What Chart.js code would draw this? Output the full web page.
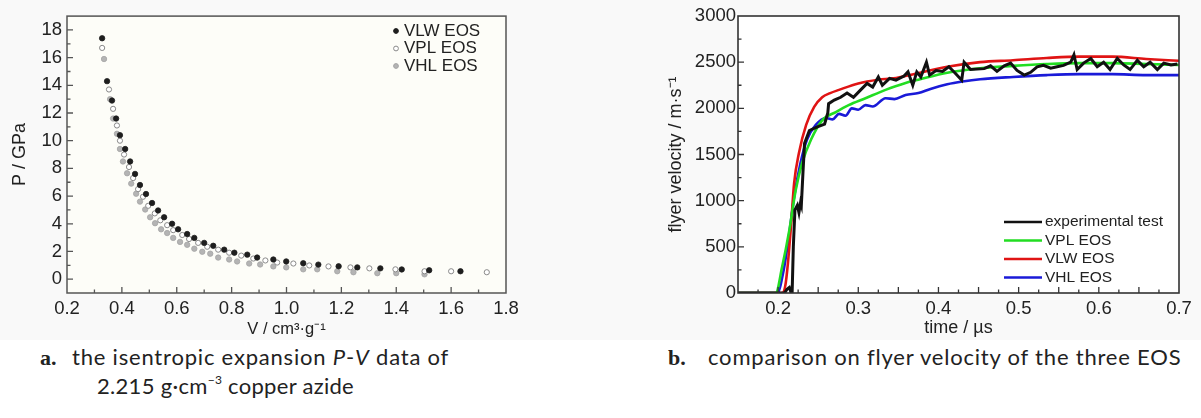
<!DOCTYPE html>
<html>
<head>
<meta charset="utf-8">
<script src="https://cdn.jsdelivr.net/npm/chart.js@4.4.1/dist/chart.umd.min.js"></script>
<style>
  html, body { margin:0; padding:0; background:#ffffff; width:1201px; height:418px; overflow:hidden; }
  #top { position:absolute; left:0; top:0; width:1201px; height:340px; background:#f9f9f9; }
  #wa { position:absolute; left:0; top:0; width:560px; height:340px; }
  #wb { position:absolute; left:600px; top:0; width:601px; height:340px; }
  .cap { position:absolute; font-family:"Lato","Open Sans",sans-serif; font-size:22px; letter-spacing:0.8px; color:#222; white-space:nowrap; }
  .lbl { font-family:"Liberation Serif","Times New Roman",serif; font-weight:bold; letter-spacing:0; }
  sup { font-size:12px; vertical-align:10px; line-height:0; }
</style>
</head>
<body>
<div id="top"></div>
<div id="wa"><canvas id="ca" width="560" height="340"></canvas></div>
<div id="wb"><canvas id="cb" width="601" height="340"></canvas></div>
<div class="cap" style="left:40px;top:343px;"><span class="lbl">a.</span></div>
<div class="cap" style="left:72px;top:343px;">the isentropic expansion <i>P</i>-<i>V</i> data of</div>
<div class="cap" style="left:97px;top:372px;letter-spacing:0.3px;">2.215 g·cm<sup>−3</sup> copper azide</div>
<div class="cap" style="left:668px;top:343px;"><span class="lbl">b.</span></div>
<div class="cap" style="left:708px;top:343px;">comparison on flyer velocity of the three EOS</div>
<script>
// ---------- Chart a: isentropic P-V data ----------
const V_TICKS = [0.2, 0.4, 0.6, 0.8, 1.0, 1.2, 1.4, 1.6, 1.8];
const P_TICKS = [0, 2, 4, 6, 8, 10, 12, 14, 16, 18];

const VLW_V = [0.328,0.346,0.364,0.379,0.393,0.412,0.430,0.448,0.466,0.488,0.510,0.532,0.554,0.583,0.605,0.638,0.664,0.700,0.733,0.773,0.810,0.857,0.893,0.952,0.999,1.061,1.116,1.190,1.258,1.342,1.420,1.520,1.634];
const VLW_P = [17.4,14.3,12.9,11.6,10.4,9.4,8.5,7.6,6.8,6.15,5.5,4.96,4.47,4.0,3.6,3.26,2.98,2.62,2.41,2.13,1.91,1.77,1.56,1.42,1.28,1.15,1.05,0.93,0.85,0.78,0.70,0.64,0.57];

const VPL_V = [0.328,0.353,0.368,0.382,0.393,0.408,0.426,0.441,0.459,0.477,0.496,0.520,0.540,0.565,0.587,0.620,0.645,0.678,0.711,0.751,0.791,0.835,0.879,0.923,0.966,1.025,1.083,1.153,1.233,1.302,1.397,1.503,1.600,1.730];
const VPL_P = [16.7,13.7,12.3,11.1,10.0,9.0,8.1,7.3,6.5,5.95,5.3,4.75,4.25,3.9,3.54,3.19,2.9,2.62,2.34,2.13,1.91,1.70,1.49,1.35,1.20,1.13,0.99,0.92,0.85,0.78,0.71,0.57,0.57,0.50];

const VHL_V = [0.335,0.357,0.368,0.382,0.393,0.404,0.419,0.434,0.452,0.466,0.485,0.503,0.521,0.543,0.565,0.587,0.612,0.638,0.664,0.693,0.722,0.751,0.791,0.820,0.864,0.904,0.952,0.999,1.061,1.112,1.185,1.244,1.331,1.400,1.503];
const VHL_P = [15.9,13.0,11.6,10.5,9.4,8.5,7.65,6.9,6.17,5.6,5.03,4.47,4.04,3.6,3.33,2.98,2.69,2.48,2.2,1.98,1.84,1.56,1.42,1.28,1.13,1.06,0.92,0.85,0.71,0.71,0.57,0.50,0.43,0.43,0.35];

// ---------- Chart b: flyer velocity ----------
const T_TICKS = [0.2, 0.3, 0.4, 0.5, 0.6, 0.7];
const U_TICKS = [0, 500, 1000, 1500, 2000, 2500, 3000];

const EXP_T = [0.15,0.208,0.211,0.214,0.216,0.2175,0.219,0.221,0.224,0.226,0.228,0.229,0.231,0.233,0.239,0.249,0.258,0.262,0.263,0.270,0.278,0.286,0.294,0.303,0.311,0.318,0.325,0.330,0.339,0.347,0.357,0.362,0.368,0.373,0.378,0.385,0.389,0.397,0.405,0.413,0.421,0.429,0.432,0.440,0.457,0.465,0.473,0.482,0.490,0.498,0.507,0.515,0.523,0.531,0.540,0.548,0.556,0.565,0.569,0.573,0.581,0.590,0.598,0.606,0.614,0.623,0.631,0.639,0.648,0.656,0.664,0.673,0.681,0.690,0.698];
const EXP_U = [0,0,40,60,10,0,500,900,950,870,980,950,1300,1620,1760,1800,1830,1950,2050,2090,2120,2165,2120,2200,2270,2230,2340,2250,2325,2305,2350,2395,2250,2395,2340,2500,2360,2410,2400,2450,2380,2305,2500,2420,2430,2460,2400,2460,2490,2410,2360,2390,2450,2465,2435,2450,2465,2500,2580,2420,2490,2540,2450,2500,2420,2540,2470,2420,2520,2450,2500,2420,2490,2470,2480];

const VPL_T = [0.15,0.197,0.205,0.214,0.222,0.230,0.241,0.255,0.272,0.288,0.309,0.334,0.359,0.375,0.411,0.452,0.493,0.535,0.576,0.617,0.659,0.700];
const VPL_U = [0,0,280,680,1115,1410,1660,1870,1960,2035,2110,2200,2275,2310,2385,2435,2460,2480,2490,2490,2480,2470];

const VLW_T = [0.15,0.205,0.209,0.212,0.216,0.220,0.226,0.235,0.245,0.255,0.265,0.276,0.300,0.325,0.344,0.369,0.411,0.452,0.493,0.535,0.576,0.617,0.659,0.700];
const VLW_U = [0,0,80,300,715,1190,1516,1820,2015,2120,2165,2200,2270,2310,2325,2370,2450,2500,2520,2545,2560,2560,2535,2515];

const VHL_T = [0.15,0.199,0.207,0.214,0.220,0.228,0.236,0.247,0.260,0.268,0.276,0.284,0.292,0.300,0.309,0.318,0.334,0.345,0.359,0.375,0.390,0.411,0.430,0.452,0.493,0.535,0.576,0.617,0.659,0.700];
const VHL_U = [0,0,250,650,1040,1410,1660,1820,1895,1880,1940,1920,2000,1985,2035,2020,2110,2100,2145,2165,2210,2260,2290,2315,2340,2360,2370,2370,2360,2360];

const zip = (xs, ys) => xs.map((x, i) => ({ x: x, y: ys[i] }));
const FONT = '"Liberation Sans", Arial, sans-serif';

function framePlugin(opts) {
  return {
    id: 'frame_' + opts.name,
    beforeDraw(chart) {
      const a = chart.chartArea, c = chart.ctx;
      c.save();
      c.fillStyle = opts.plotBg;
      c.fillRect(a.left, a.top, a.right - a.left, a.bottom - a.top);
      c.restore();
    },
    afterDraw(chart) {
      const a = chart.chartArea, c = chart.ctx;
      const xs = chart.scales.x, ys = chart.scales.y;
      c.save();
      c.strokeStyle = opts.frameColor;
      c.lineWidth = opts.frameWidth;
      c.strokeRect(a.left, a.top, a.right - a.left, a.bottom - a.top);
      c.lineWidth = 1.3;
      c.beginPath();
      for (let v = opts.xMinor[0]; v <= opts.xMinor[1] + 1e-9; v += opts.xMinor[2]) {
        const px = xs.getPixelForValue(v);
        if (px <= a.left + 1 || px >= a.right - 1) continue;
        const major = Math.abs(v / opts.xMajor - Math.round(v / opts.xMajor)) < 1e-6;
        const len = major ? 6 : 3.5;
        c.moveTo(px, a.bottom); c.lineTo(px, a.bottom - len);
      }
      for (let v = opts.yMinor[0]; v <= opts.yMinor[1] + 1e-9; v += opts.yMinor[2]) {
        const py = ys.getPixelForValue(v);
        if (py <= a.top + 1 || py >= a.bottom - 1) continue;
        const major = Math.abs(v / opts.yMajor - Math.round(v / opts.yMajor)) < 1e-6;
        const len = major ? 6 : 3.5;
        c.moveTo(a.left, py); c.lineTo(a.left + len, py);
      }
      c.stroke();
      const L = opts.legend;
      c.font = L.font;
      c.textBaseline = 'middle';
      c.textAlign = 'left';
      chart.data.datasets.forEach((ds, i) => {
        const y = L.y0 + i * L.dy;
        if (L.kind === 'point') {
          c.beginPath();
          c.arc(L.x, y, 2.4, 0, Math.PI * 2);
          c.fillStyle = ds.backgroundColor;
          c.fill();
          c.strokeStyle = ds.borderColor;
          c.lineWidth = 1;
          c.stroke();
        } else {
          c.beginPath();
          c.strokeStyle = ds.borderColor;
          c.lineWidth = 2.6;
          c.moveTo(L.x, y); c.lineTo(L.x + L.len, y);
          c.stroke();
        }
        c.fillStyle = '#222';
        c.fillText(ds.label, L.tx, y);
      });
      c.restore();
    }
  };
}

const tickFont = { family: FONT, size: 18.5 };
const titleFont = { family: FONT, size: 18 };

new Chart(document.getElementById('ca'), {
  type: 'scatter',
  data: {
    datasets: [
      { label: 'VLW EOS', data: zip(VLW_V, VLW_P), backgroundColor: '#1e1e1e', borderColor: '#1e1e1e', pointRadius: 2.7, borderWidth: 0.8 },
      { label: 'VPL EOS', data: zip(VPL_V, VPL_P), backgroundColor: '#ffffff', borderColor: '#8a8a8a', pointRadius: 2.6, borderWidth: 1 },
      { label: 'VHL EOS', data: zip(VHL_V, VHL_P), backgroundColor: '#b4b4b4', borderColor: '#a4a4a4', pointRadius: 2.7, borderWidth: 0.8 }
    ]
  },
  options: {
    responsive: false, animation: false, events: [],
    layout: { padding: { left: 0, right: 54, top: 11, bottom: 0 } },
    plugins: { legend: { display: false }, tooltip: { enabled: false } },
    scales: {
      x: {
        type: 'linear', min: 0.2, max: 1.8,
        afterBuildTicks: s => { s.ticks = V_TICKS.map(v => ({ value: v })); },
        afterFit: s => { s.height = 47; },
        grid: { display: false, drawTicks: false },
        border: { display: false },
        ticks: { font: tickFont, color: '#222', padding: 5, maxRotation: 0, autoSkip: false, callback: v => v.toFixed(1) },
        title: { display: true, text: 'V / cm³·g⁻¹', font: { family: FONT, size: 16.5 }, color: '#222', padding: { top: 0, bottom: 1 } }
      },
      y: {
        type: 'linear', min: -1, max: 19,
        afterBuildTicks: s => { s.ticks = P_TICKS.map(v => ({ value: v })); },
        afterFit: s => { s.width = 67; },
        grid: { display: false, drawTicks: false },
        border: { display: false },
        ticks: { font: tickFont, color: '#222', padding: 5, autoSkip: false },
        title: { display: true, text: 'P / GPa', font: titleFont, color: '#222', padding: { top: 9, bottom: 0 } }
      }
    }
  },
  plugins: [framePlugin({
    name: 'a', plotBg: '#fdfdf8', frameColor: '#555', frameWidth: 1.5,
    xMinor: [0.2, 1.8, 0.1], xMajor: 0.2, yMinor: [0, 18, 1], yMajor: 2,
    legend: { kind: 'point', x: 396, tx: 404, y0: 31, dy: 17.5, font: '17px ' + FONT }
  })]
});

new Chart(document.getElementById('cb'), {
  type: 'scatter',
  data: {
    datasets: [
      { label: 'experimental test', data: zip(EXP_T, EXP_U), borderColor: '#111111', backgroundColor: '#111111', showLine: true, pointRadius: 0, borderWidth: 3, tension: 0 },
      { label: 'VPL EOS', data: zip(VPL_T, VPL_U), borderColor: '#22dd22', backgroundColor: '#22dd22', showLine: true, pointRadius: 0, borderWidth: 2.6, cubicInterpolationMode: 'monotone' },
      { label: 'VLW EOS', data: zip(VLW_T, VLW_U), borderColor: '#e01414', backgroundColor: '#e01414', showLine: true, pointRadius: 0, borderWidth: 2.6, cubicInterpolationMode: 'monotone' },
      { label: 'VHL EOS', data: zip(VHL_T, VHL_U), borderColor: '#1a1ad8', backgroundColor: '#1a1ad8', showLine: true, pointRadius: 0, borderWidth: 2.6, cubicInterpolationMode: 'monotone' }
    ]
  },
  options: {
    responsive: false, animation: false, events: [],
    layout: { padding: { left: 0, right: 22, top: 16, bottom: 0 } },
    plugins: { legend: { display: false }, tooltip: { enabled: false } },
    scales: {
      x: {
        type: 'linear', min: 0.15, max: 0.7,
        afterBuildTicks: s => { s.ticks = T_TICKS.map(v => ({ value: v })); },
        afterFit: s => { s.height = 47; },
        grid: { display: false, drawTicks: false },
        border: { display: false },
        ticks: { font: tickFont, color: '#222', padding: 5, maxRotation: 0, autoSkip: false, callback: v => v.toFixed(1) },
        title: { display: true, text: 'time / µs', font: titleFont, color: '#222', padding: { top: 0, bottom: 1 } }
      },
      y: {
        type: 'linear', min: 0, max: 3000,
        afterBuildTicks: s => { s.ticks = U_TICKS.map(v => ({ value: v })); },
        afterFit: s => { s.width = 138; },
        grid: { display: false, drawTicks: false },
        border: { display: false },
        ticks: { font: tickFont, color: '#222', padding: 2, autoSkip: false, callback: v => String(v) },
        title: { display: true, text: 'flyer velocity / m·s⁻¹', font: titleFont, color: '#222', padding: { top: 65, bottom: 0 } }
      }
    }
  },
  plugins: [framePlugin({
    name: 'b', plotBg: '#ffffff', frameColor: '#333', frameWidth: 1.6,
    xMinor: [0.15, 0.7, 0.025], xMajor: 0.05, yMinor: [0, 3000, 250], yMajor: 500,
    legend: { kind: 'line', x: 404, len: 38, tx: 445, y0: 222, dy: 18.5, font: '15.5px ' + FONT }
  })]
});
</script>
</body>
</html>
